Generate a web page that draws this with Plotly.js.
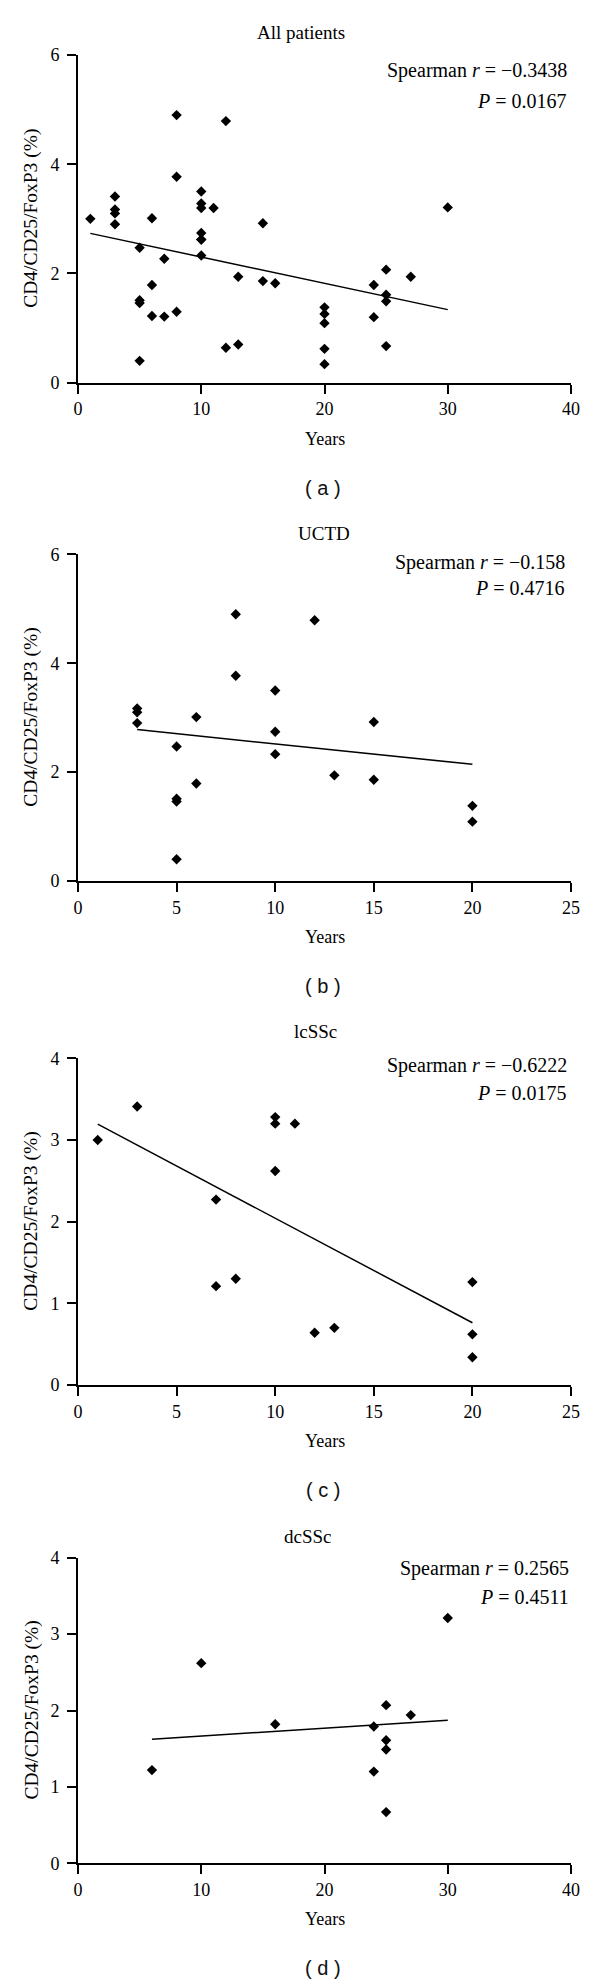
<!DOCTYPE html>
<html>
<head>
<meta charset="utf-8">
<script src="https://cdn.plot.ly/plotly-3.0.1.min.js"></script>
<style>html,body{margin:0;padding:0;background:#fff;}#chart{width:600px;height:1982px;}</style>
</head>
<body>
<div id="chart"></div>
<script>
// ---- data ----
const uctdYears  = [3, 3, 3, 5, 5, 5, 5, 6, 6, 8, 8, 10, 10, 10, 12, 13, 15, 15, 20, 20];
const uctdValues = [3.17, 3.10, 2.90, 2.47, 1.51, 1.46, 0.40, 3.01, 1.79, 4.90, 3.77, 3.50, 2.74, 2.33, 4.79, 1.94, 2.92, 1.86, 1.38, 1.09];

const lcsscYears  = [1, 3, 7, 7, 8, 10, 10, 10, 11, 12, 13, 20, 20, 20];
const lcsscValues = [3.00, 3.41, 2.27, 1.21, 1.30, 3.28, 3.20, 2.62, 3.20, 0.64, 0.70, 1.26, 0.62, 0.34];

const dcsscYears  = [6, 10, 16, 24, 24, 25, 25, 25, 25, 27, 30];
const dcsscValues = [1.22, 2.62, 1.82, 1.79, 1.20, 2.07, 1.61, 1.49, 0.67, 1.94, 3.21];

const allYears  = uctdYears.concat(lcsscYears, dcsscYears);
const allValues = uctdValues.concat(lcsscValues, dcsscValues);

const panelTitles = ["All patients", "UCTD", "lcSSc", "dcSSc"];
const panelLabels = ["( a )", "( b )", "( c )", "( d )"];
const spearmanR   = ["\u22120.3438", "\u22120.158", "\u22120.6222", "0.2565"];
const pValues     = ["0.0167", "0.4716", "0.0175", "0.4511"];

const xTicks1 = [0, 10, 20, 30, 40];
const xTicks2 = [0, 5, 10, 15, 20, 25];
const yTicks1 = [0, 2, 4, 6];
const yTicks2 = [0, 1, 2, 3, 4];

const yAxisTitle = "CD4/CD25/FoxP3 (%)";
const xAxisTitle = "Years";

// ---- layout geometry (pixels) ----
const W = 600, H = 1982;
const fx = p => p / W;
const fy = p => 1 - p / H;

const panels = [
  {xs: allYears,   ys: allValues,   xt: xTicks1, yt: yTicks1, top: 55,     bottom: 382.7,  titleX: 301, titleY: 32,   s1: 71,   s2: 101,  sx: 569},
  {xs: uctdYears,  ys: uctdValues,  xt: xTicks2, yt: yTicks1, top: 554.3,  bottom: 881,    titleX: 324, titleY: 533,  s1: 562,  s2: 588,  sx: 567},
  {xs: lcsscYears, ys: lcsscValues, xt: xTicks2, yt: yTicks2, top: 1058.3, bottom: 1385,   titleX: 316, titleY: 1031, s1: 1065, s2: 1093, sx: 569},
  {xs: dcsscYears, ys: dcsscValues, xt: xTicks1, yt: yTicks2, top: 1557.7, bottom: 1863.3, titleX: 308, titleY: 1536, s1: 1568, s2: 1597, sx: 571}
];

const plotLeft = 78, plotRight = 571, plotMid = (78 + 571) / 2;
const serif = "Liberation Serif, Times New Roman, serif";

function fit(xs, ys) {
  const n = xs.length;
  const mx = xs.reduce((a, b) => a + b, 0) / n;
  const my = ys.reduce((a, b) => a + b, 0) / n;
  let sxy = 0, sxx = 0;
  for (let i = 0; i < n; i++) { sxy += (xs[i] - mx) * (ys[i] - my); sxx += (xs[i] - mx) * (xs[i] - mx); }
  const b = sxy / sxx, a = my - b * mx;
  const x0 = Math.min(...xs), x1 = Math.max(...xs);
  return {x: [x0, x1], y: [a + b * x0, a + b * x1]};
}

const traces = [];
const layout = {
  width: W, height: H,
  margin: {l: 0, r: 0, t: 0, b: 0},
  paper_bgcolor: "#fff", plot_bgcolor: "#fff",
  showlegend: false,
  font: {family: serif, color: "#000", size: 18},
  annotations: []
};

panels.forEach((p, i) => {
  const k = i === 0 ? "" : String(i + 1);
  const xa = "x" + k, ya = "y" + k;
  traces.push({
    type: "scatter", mode: "markers", x: p.xs, y: p.ys, xaxis: xa, yaxis: ya,
    marker: {symbol: "diamond", size: 8, color: "#000"}, hoverinfo: "skip"
  });
  const f = fit(p.xs, p.ys);
  traces.push({
    type: "scatter", mode: "lines", x: f.x, y: f.y, xaxis: xa, yaxis: ya,
    line: {color: "#000", width: 1.5}, hoverinfo: "skip"
  });
  const common = {
    showline: true, linecolor: "#000", linewidth: 2,
    ticks: "outside", ticklen: 9, tickwidth: 2, tickcolor: "#000",
    showgrid: false, zeroline: false, fixedrange: true,
    tickfont: {family: serif, size: 18, color: "#000"}
  };
  layout["xaxis" + k] = Object.assign({}, common, {
    domain: [fx(plotLeft), fx(plotRight)], anchor: ya,
    range: [p.xt[0], p.xt[p.xt.length - 1]], tickmode: "array", tickvals: p.xt,
    ticklabelstandoff: 0
  });
  layout["yaxis" + k] = Object.assign({}, common, {
    domain: [fy(p.bottom), fy(p.top)], anchor: xa,
    range: [p.yt[0], p.yt[p.yt.length - 1]], tickmode: "array", tickvals: p.yt,
    ticklabelstandoff: 4
  });
  const A = layout.annotations;
  A.push({xref: "paper", yref: "paper", x: fx(p.titleX), y: fy(p.titleY), xanchor: "center", yanchor: "middle",
          text: panelTitles[i], showarrow: false, font: {family: serif, size: 19, color: "#000"}});
  A.push({xref: "paper", yref: "paper", x: fx(p.sx), y: fy(p.s1), xanchor: "right", yanchor: "middle",
          text: "Spearman <i>r</i> = " + spearmanR[i], showarrow: false, font: {family: serif, size: 20, color: "#000"}});
  A.push({xref: "paper", yref: "paper", x: fx(p.sx), y: fy(p.s2), xanchor: "right", yanchor: "middle",
          text: "<i>P</i> = " + pValues[i], showarrow: false, font: {family: serif, size: 20, color: "#000"}});
  A.push({xref: "paper", yref: "paper", x: fx(31), y: fy((p.top + p.bottom) / 2), xanchor: "center", yanchor: "middle",
          text: yAxisTitle, textangle: -90, showarrow: false, font: {family: serif, size: 19.5, color: "#000"}});
  A.push({xref: "paper", yref: "paper", x: fx(plotMid), y: fy(p.bottom + 56), xanchor: "center", yanchor: "middle",
          text: xAxisTitle, showarrow: false, font: {family: serif, size: 18, color: "#000"}});
  A.push({xref: "paper", yref: "paper", x: fx(323), y: fy(p.bottom + 105), xanchor: "center", yanchor: "middle",
          text: panelLabels[i], showarrow: false, font: {family: "Liberation Sans, Arial, sans-serif", size: 20, color: "#111"}});
});

Plotly.newPlot("chart", traces, layout, {staticPlot: true, displayModeBar: false});
</script>
</body>
</html>
